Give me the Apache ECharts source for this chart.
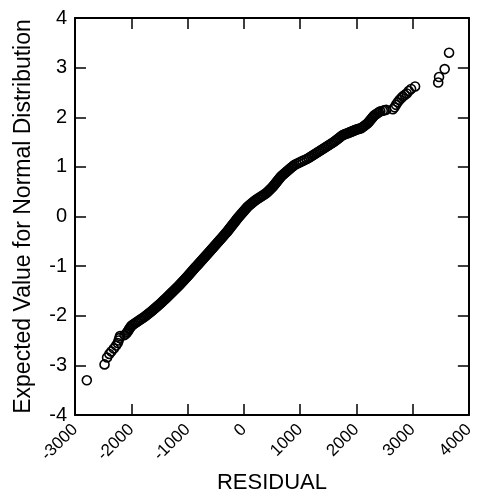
<!DOCTYPE html>
<html>
<head>
<meta charset="utf-8">
<script src="https://cdn.jsdelivr.net/npm/echarts@6/dist/echarts.min.js"></script>
<style>
html,body{margin:0;padding:0;background:#fff;}
#chart{width:477px;height:499px;}
</style>
</head>
<body>
<div id="chart"></div>
<script>
// Axis ranges
var xMin = -3000, xMax = 4000, xStep = 1000;
var yMin = -4, yMax = 4, yStep = 1;
var xTitle = 'RESIDUAL';
var yTitle = 'Expected Value for Normal Distribution';

// [residual, expected normal value]
var lowerTail = [
  [-2790,-3.30],[-2475,-2.98],[-2430,-2.84],[-2390,-2.77],[-2355,-2.72],[-2310,-2.66],
  [-2270,-2.60],[-2240,-2.55],[-2225,-2.50],[-2210,-2.45],[-2200,-2.41],[-2120,-2.39],
  [-2090,-2.36],[-2070,-2.33],[-2055,-2.30],[-2040,-2.27],[-2025,-2.25],[-2010,-2.22],[-1995,-2.20]
];

var core = [
  [-1974,-2.18],[-1948,-2.16],[-1922,-2.14],[-1896,-2.12],[-1870,-2.10],[-1844,-2.08],[-1817,-2.06],
  [-1791,-2.04],[-1764,-2.02],[-1742,-2.00],[-1719,-1.98],[-1697,-1.96],[-1674,-1.94],[-1652,-1.92],
  [-1630,-1.90],[-1610,-1.88],[-1589,-1.86],[-1569,-1.84],[-1548,-1.82],[-1528,-1.80],[-1508,-1.78],
  [-1487,-1.76],[-1467,-1.74],[-1449,-1.72],[-1431,-1.70],[-1413,-1.68],[-1395,-1.66],[-1377,-1.64],
  [-1359,-1.62],[-1341,-1.60],[-1323,-1.58],[-1305,-1.56],[-1287,-1.54],[-1269,-1.52],[-1251,-1.50],
  [-1233,-1.48],[-1215,-1.46],[-1197,-1.44],[-1179,-1.42],[-1160,-1.40],[-1144,-1.38],[-1127,-1.36],
  [-1111,-1.34],[-1094,-1.32],[-1078,-1.30],[-1061,-1.28],[-1045,-1.26],[-1028,-1.24],[-1012,-1.22],
  [-995,-1.20],[-980,-1.18],[-964,-1.16],[-949,-1.14],[-933,-1.12],[-918,-1.10],[-902,-1.08],
  [-887,-1.06],[-871,-1.04],[-856,-1.02],[-840,-1.00],[-825,-0.98],[-809,-0.96],[-793,-0.94],
  [-777,-0.92],[-761,-0.90],[-745,-0.88],[-729,-0.86],[-714,-0.84],[-698,-0.82],[-682,-0.80],
  [-666,-0.78],[-650,-0.76],[-634,-0.74],[-618,-0.72],[-602,-0.70],[-587,-0.68],[-571,-0.66],
  [-555,-0.64],[-540,-0.62],[-524,-0.60],[-508,-0.58],[-492,-0.56],[-477,-0.54],[-461,-0.52],
  [-445,-0.50],[-430,-0.48],[-414,-0.46],[-398,-0.44],[-382,-0.42],[-367,-0.40],[-351,-0.38],
  [-336,-0.36],[-322,-0.34],[-308,-0.32],[-294,-0.30],[-280,-0.28],[-266,-0.26],[-252,-0.24],
  [-239,-0.22],[-225,-0.20],[-211,-0.18],[-197,-0.16],[-183,-0.14],[-169,-0.12],[-155,-0.10],
  [-141,-0.08],[-128,-0.06],[-114,-0.04],[-100,-0.02],[-84,0.00],[-69,0.02],[-53,0.04],
  [-38,0.06],[-22,0.08],[-7,0.10],[9,0.12],[24,0.14],[40,0.16],[55,0.18],[71,0.20],
  [92,0.22],[114,0.24],[135,0.26],[156,0.28],[177,0.30],[199,0.32],[220,0.34],[247,0.36],
  [275,0.38],[302,0.40],[330,0.42],[357,0.44],[384,0.46],[407,0.48],[425,0.50],[443,0.52],
  [461,0.54],[479,0.56],[497,0.58],[515,0.60],[529,0.62],[543,0.64],[558,0.66],[572,0.68],
  [586,0.70],[600,0.72],[614,0.74],[629,0.76],[643,0.78],[657,0.80],[674,0.82],[695,0.84],
  [715,0.86],[736,0.88],[756,0.90],[777,0.92],[797,0.94],[818,0.96],[838,0.98],[859,1.00],
  [879,1.02],[900,1.04],[936,1.06],[973,1.08],[1009,1.10],[1046,1.12],[1082,1.14],[1119,1.16],
  [1151,1.18],[1179,1.20],[1207,1.22],[1235,1.24],[1263,1.26],[1291,1.28],[1319,1.30],[1347,1.32],
  [1375,1.34],[1403,1.36],[1431,1.38],[1458,1.40],[1486,1.42],[1514,1.44],[1542,1.46],[1570,1.48],
  [1597,1.50],[1622,1.52],[1645,1.54],[1668,1.56],[1691,1.58],[1713,1.60],[1736,1.62],[1759,1.64],
  [1781,1.65],[1803,1.66],[1825,1.67],[1847,1.68],[1868,1.69],[1890,1.70],[1911,1.71],[1932,1.72],
  [1954,1.73],[1975,1.74],[1996,1.75],[2026,1.76],[2055,1.77],[2085,1.78],[2108,1.80],[2132,1.82],
  [2155,1.84],[2179,1.86],[2202,1.88],[2217,1.90],[2232,1.92],[2247,1.94],[2262,1.96],[2277,1.98],
  [2291,2.00],[2306,2.02],[2321,2.04],[2347,2.06],[2374,2.08],[2400,2.10],[2427,2.12],[2470,2.13],
  [2500,2.14],[2530,2.15]
];

var upperTail = [
  [2650,2.16],[2680,2.20],[2705,2.25],[2735,2.30],[2766,2.35],[2800,2.39],[2825,2.42],
  [2860,2.45],[2896,2.48],[2931,2.53],[2973,2.57],[3044,2.62],[3455,2.70],[3470,2.81],
  [3570,2.97],[3648,3.30]
];

var points = lowerTail.concat(core, upperTail);

var font = '"Liberation Sans", Arial, sans-serif';
var chart = echarts.init(document.getElementById('chart'), null, {renderer: 'canvas'});

function axisCommon(extra) {
  var base = {
    axisLine: {show: true, onZero: false, lineStyle: {color: '#000', width: 2}},
    axisTick: {show: true, inside: true, length: 11, lineStyle: {color: '#000', width: 1.5}},
    splitLine: {show: false}
  };
  for (var k in extra) base[k] = extra[k];
  return base;
}

chart.setOption({
  backgroundColor: '#fff',
  animation: false,
  grid: {left: 75, right: 8, top: 18, bottom: 82, containLabel: false},
  xAxis: [
    axisCommon({
      type: 'value', position: 'bottom', min: xMin, max: xMax, interval: xStep,
      name: xTitle, nameLocation: 'middle', nameGap: 57,
      nameTextStyle: {fontFamily: font, fontSize: 22, color: '#000'},
      axisLabel: {rotate: 45, margin: 12, fontFamily: font, fontSize: 17, color: '#000',
        formatter: function (v) { return String(v); }}
    }),
    axisCommon({
      type: 'value', position: 'top', min: xMin, max: xMax, interval: xStep,
      axisLabel: {show: false}
    })
  ],
  yAxis: [
    axisCommon({
      type: 'value', position: 'left', min: yMin, max: yMax, interval: yStep,
      name: yTitle, nameLocation: 'middle', nameGap: 40, nameRotate: 90,
      nameTextStyle: {fontFamily: font, fontSize: 23, color: '#000'},
      axisLabel: {margin: 8, fontFamily: font, fontSize: 20, color: '#000',
        formatter: function (v) { return String(v); }}
    }),
    axisCommon({
      type: 'value', position: 'right', min: yMin, max: yMax, interval: yStep,
      axisLabel: {show: false}
    })
  ],
  series: [{
    type: 'scatter',
    xAxisIndex: 0, yAxisIndex: 0,
    data: points,
    symbol: 'circle',
    symbolSize: 9,
    itemStyle: {color: 'rgba(0,0,0,0)', borderColor: '#000', borderWidth: 1.6, opacity: 1},
    emphasis: {disabled: true}
  }]
});
</script>
</body>
</html>
